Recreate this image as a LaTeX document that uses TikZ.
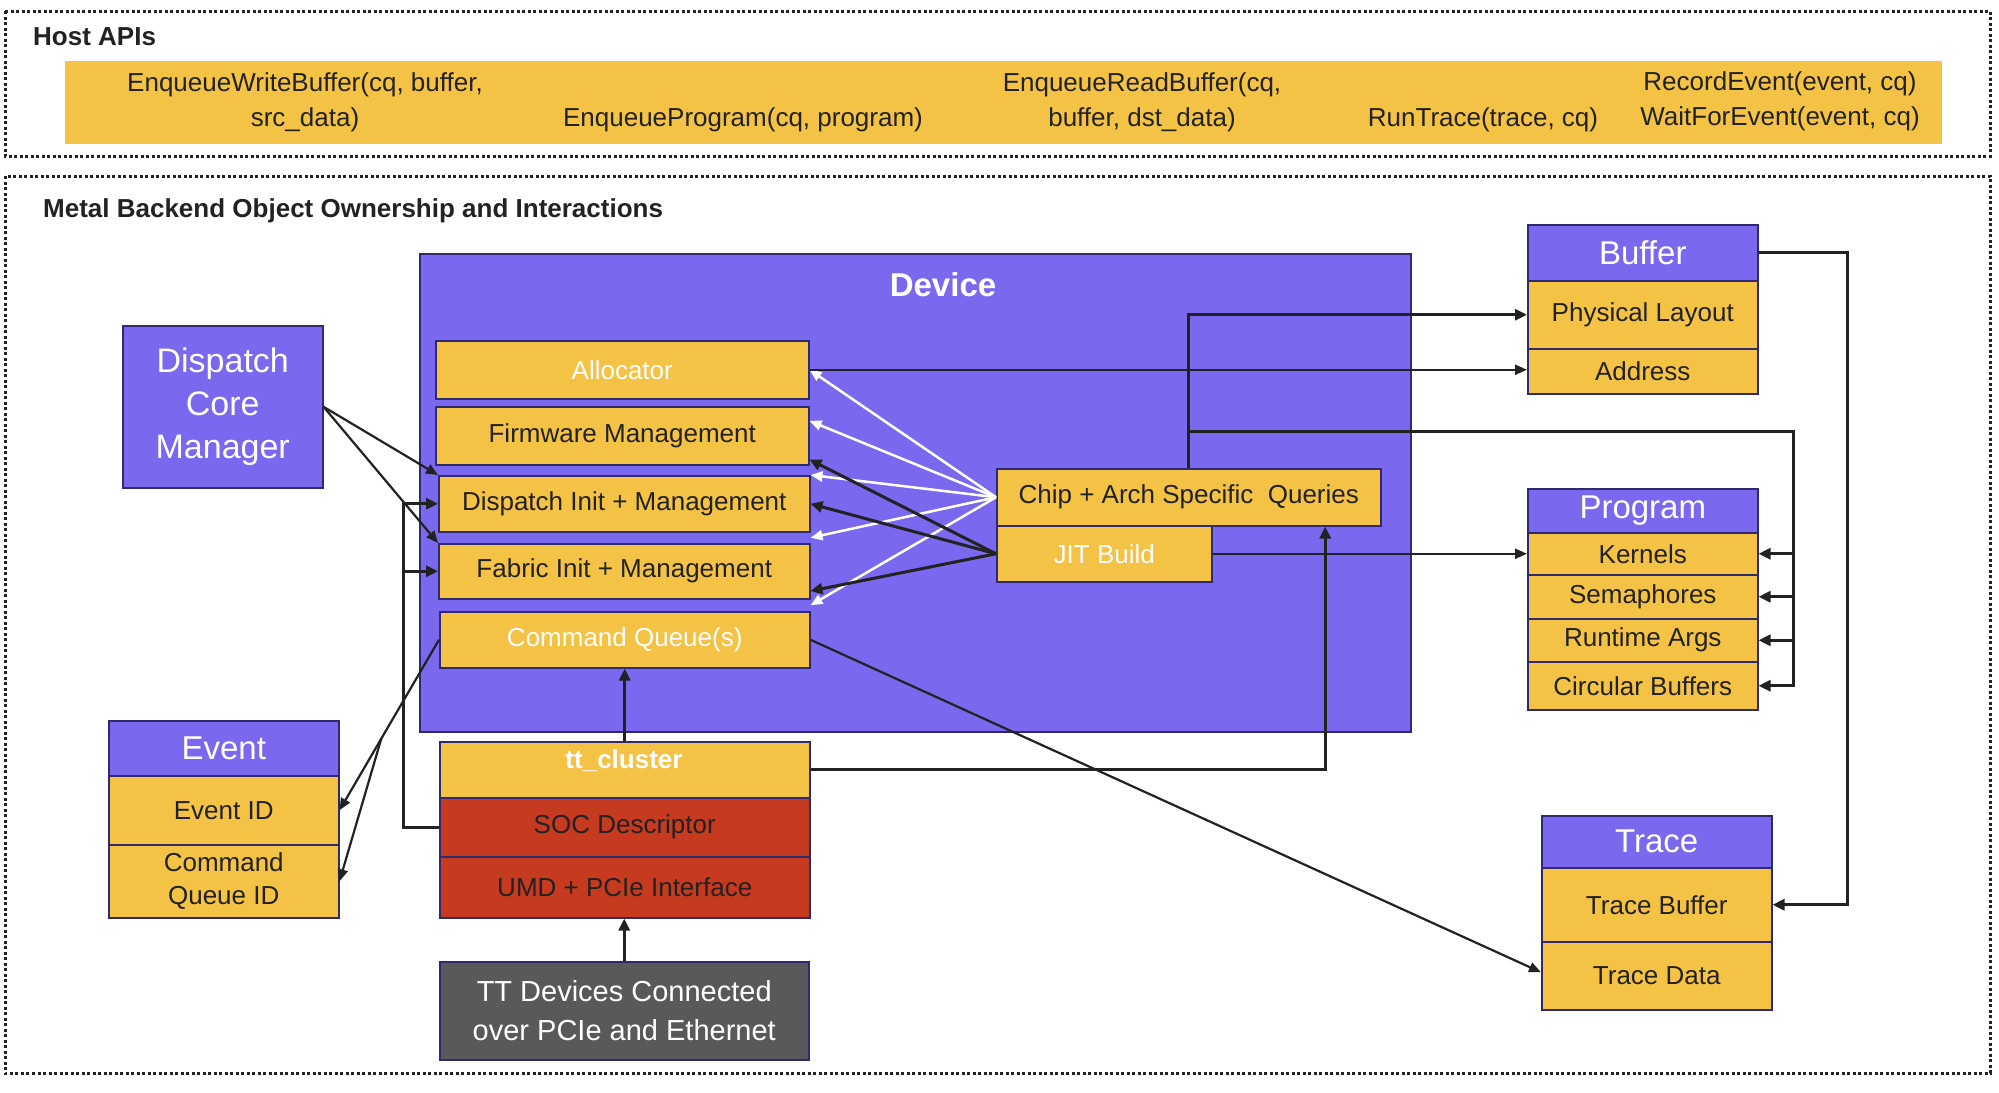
\documentclass[tikz,border=0pt]{standalone}
\usepackage{fontspec}
\setmainfont{Liberation Sans}
\usetikzlibrary{arrows.meta,calc}
\definecolor{pur}{RGB}{122,104,238}
\definecolor{yel}{RGB}{244,194,68}
\definecolor{rd}{RGB}{198,58,31}
\definecolor{gry}{RGB}{89,89,89}
\definecolor{nav}{RGB}{47,42,110}
\definecolor{ink}{RGB}{34,34,34}
\begin{document}
\begin{tikzpicture}[x=1pt,y=-1pt,
  box/.style={draw=nav,line width=1.5pt,inner sep=0pt,anchor=north west,text=ink,align=center,font=\fontsize{26}{31}\selectfont},
  ybox/.style={box,fill=yel},
  pbox/.style={box,fill=pur,text=white},
  hbox/.style={box,fill=pur,text=white,font=\fontsize{33}{40}\selectfont},
  rbox/.style={box,fill=rd},
  htxt/.style={text=ink,align=center,inner sep=0pt,font=\fontsize{26}{35}\selectfont},
  conn/.style={draw=ink,line width=3pt,-{Triangle[length=12pt,width=11pt]}},
  thinc/.style={draw=ink,line width=2.2pt,-{Triangle[length=12pt,width=10pt]}},
  wconn/.style={draw=white,line width=2.5pt,-{Triangle[length=12pt,width=10pt]}},
  frame/.style={draw=ink,line width=3pt,dash pattern=on 3pt off 2.5pt},
]
\fill[white] (0,0) rectangle (1999,1092);
\path[use as bounding box] (0,0) rectangle (1999,1092);

% frames
\draw[frame] (5,11) rectangle (1990,156);
\draw[frame] (5,176) rectangle (1990,1073);

% Host APIs
\node[anchor=west,inner sep=0pt,text=ink,font=\bfseries\fontsize{26}{31}\selectfont] (hosttitle) at (33,37) {Host APIs};
\node[fill=yel,minimum width=1877pt,minimum height=83pt,anchor=north west,inner sep=0pt] (hostband) at (65,61) {};
\node[htxt] (ewb) at (305,102) {EnqueueWriteBuffer(cq, buffer,\\src\_data)};
\node[htxt] (ep) at (743,120) {EnqueueProgram(cq, program)};
\node[htxt] (erb) at (1142,102) {EnqueueReadBuffer(cq,\\buffer, dst\_data)};
\node[htxt] (rt) at (1483,120) {RunTrace(trace, cq)};
\node[htxt] (rec) at (1780,101) {RecordEvent(event, cq)\\WaitForEvent(event, cq)};

% section title
\node[anchor=west,inner sep=0pt,text=ink,font=\bfseries\fontsize{26}{31}\selectfont] (mtitle) at (43,211) {Metal Backend Object Ownership and Interactions};

% Device
\node[pbox,minimum width=991pt,minimum height=478pt] (device) at (419,253) {};
\node[text=white,inner sep=0pt,font=\bfseries\fontsize{33}{40}\selectfont] (devlbl) at (943,285) {Device};

\node[ybox,text=white,minimum width=373pt,minimum height=58pt] (alloc) at (435,340) {Allocator};
\node[ybox,minimum width=373pt,minimum height=58pt] (fw) at (435,406) {Firmware Management};
\node[ybox,minimum width=371pt,minimum height=56pt] (disp) at (438,475) {Dispatch Init + Management};
\node[ybox,minimum width=371pt,minimum height=55pt] (fab) at (438,543) {Fabric Init + Management};
\node[ybox,text=white,minimum width=370pt,minimum height=56pt] (cq) at (439,611) {Command Queue(s)};

\node[ybox,minimum width=384pt,minimum height=57pt] (chip) at (996,468) {Chip + Arch Specific\ \ Queries};
\node[ybox,text=white,minimum width=215pt,minimum height=56pt] (jit) at (996,525) {JIT Build};

% tt_cluster
\node[ybox,minimum width=370pt,minimum height=56pt] (ttc) at (439,741) {};
\node[text=white,inner sep=0pt,font=\bfseries\fontsize{26}{31}\selectfont] (ttclbl) at (624,761) {tt\_cluster};
\node[rbox,minimum width=370pt,minimum height=59pt] (soc) at (439,797) {SOC Descriptor};
\node[rbox,minimum width=370pt,minimum height=61pt] (umd) at (439,856) {UMD + PCIe Interface};
\node[box,fill=gry,text=white,minimum width=369pt,minimum height=98pt,font=\fontsize{29}{39}\selectfont] (ttd) at (439,961) {TT Devices Connected\\over PCIe and Ethernet};

% Dispatch Core Manager
\node[pbox,minimum width=200pt,minimum height=162pt,font=\fontsize{34}{43}\selectfont] (dcm) at (122,325) {Dispatch\\Core\\Manager};

% Event
\node[hbox,minimum width=230pt,minimum height=55pt] (evh) at (108,720) {Event};
\node[ybox,minimum width=230pt,minimum height=69pt] (evid) at (108,775) {Event ID};
\node[ybox,minimum width=230pt,minimum height=73pt,font=\fontsize{26}{33}\selectfont] (evcq) at (108,844) {Command\\Queue ID};

% Buffer
\node[hbox,minimum width=230pt,minimum height=56pt] (bufh) at (1527,224) {Buffer};
\node[ybox,minimum width=230pt,minimum height=68pt] (phys) at (1527,280) {Physical Layout};
\node[ybox,minimum width=230pt,minimum height=45pt] (addr) at (1527,348) {Address};

% Program
\node[hbox,minimum width=230pt,minimum height=44pt] (progh) at (1527,488) {Program};
\node[ybox,minimum width=230pt,minimum height=42pt] (kern) at (1527,532) {Kernels};
\node[ybox,minimum width=230pt,minimum height=44pt] (sem) at (1527,574) {Semaphores};
\node[ybox,minimum width=230pt,minimum height=43pt] (rta) at (1527,618) {Runtime Args};
\node[ybox,minimum width=230pt,minimum height=48pt] (cb) at (1527,661) {Circular Buffers};

% Trace
\node[hbox,minimum width=230pt,minimum height=52pt] (trh) at (1541,815) {Trace};
\node[ybox,minimum width=230pt,minimum height=74pt] (trb) at (1541,867) {Trace Buffer};
\node[ybox,minimum width=230pt,minimum height=68pt] (trd) at (1541,941) {Trace Data};

% ---- connectors ----
% white arrows from queries
\draw[wconn] (chip.west) -- (alloc.east);
\draw[wconn] (chip.west) -- ($(fw.north east)!0.25!(fw.south east)$);
\draw[wconn] (chip.west) -- (disp.north east);
\draw[wconn] (chip.west) -- ($(disp.south east)!0.5!(fab.north east)$);
\draw[wconn] (chip.west) -- ($(fab.south east)!0.5!(cq.north east)$);
% black arrows from JIT build
\draw[conn] (jit.west) -- ($(fw.north east)!0.9!(fw.south east)$);
\draw[conn] (jit.west) -- (disp.east);
\draw[conn] (jit.west) -- ($(fab.north east)!0.85!(fab.south east)$);

% allocator -> address
\draw[thinc] (alloc.east) -- (alloc.east -| addr.west);
% queries -> physical layout
\draw[conn] (chip.north) |- (phys.west);
% queries -> program parts
\coordinate (pb) at (1793,431);
\draw[conn] (chip.north |- pb) -| (pb |- cb.east) -- (cb.east);
\draw[conn] (pb |- kern.east) -- (kern.east);
\draw[conn] (pb |- sem.east) -- (sem.east);
\draw[conn] (pb |- rta.east) -- (rta.east);
% JIT -> kernels
\draw[thinc] (jit.east) -- (jit.east -| kern.west);
% buffer -> trace buffer
\coordinate (tb) at (1847,256);
\draw[conn] (bufh.east) -- (bufh.east -| tb) -- (tb |- trb.east) -- (trb.east);
% tt_cluster -> queries
\coordinate (ttcup) at ($(chip.south west)!0.854!(chip.south east)$);
\draw[conn] (ttc.east) -| (ttcup);
% command queue -> trace data
\draw[thinc] (cq.east) -- ($(trd.north west)!0.45!(trd.south west)$);
% tt_cluster -> command queue
\draw[conn] (ttc.north) -- (cq.south);
% devices -> UMD
\draw[conn] (ttd.north) -- (ttd.north |- umd.south);
% SOC -> dispatch / fabric
\coordinate (sx) at (403,0);
\draw[conn] (soc.west) -| (sx |- disp.west) -- (disp.west);
\draw[conn] (sx |- fab.west) -- (fab.west);
% dispatch core manager -> dispatch / fabric
\draw[thinc] (dcm.east) -- (disp.north west);
\draw[thinc] (dcm.east) -- (fab.north west);
% command queue -> event
\coordinate (evbr) at ($(cq.west)!0.58!(evid.east)$);
\draw[thinc] (cq.west) -- (evid.east);
\draw[thinc] (evbr) -- (evcq.east);
\end{tikzpicture}
\end{document}
